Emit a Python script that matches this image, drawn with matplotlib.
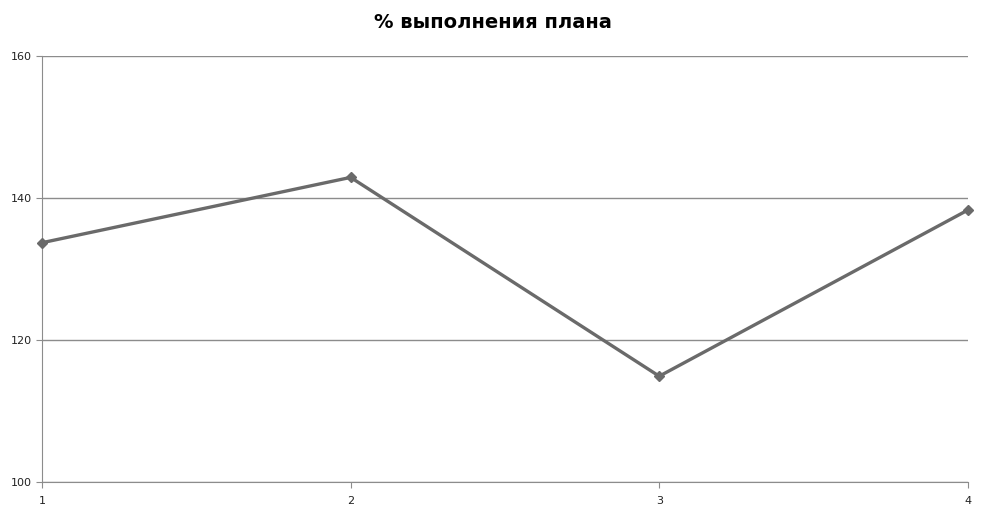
import matplotlib
matplotlib.use("Agg")
import matplotlib.pyplot as plt

categories = [1, 2, 3, 4]
values = [133.7, 142.9, 114.9, 138.3]
yticks = [100, 120, 140, 160]
title = "% выполнения плана"

fig = plt.figure(figsize=(9.86, 5.15), dpi=100)
ax = fig.add_axes([0.0426, 0.0641, 0.939, 0.8272])
ax.plot(categories, values, color="#6a6a6a", lw=2.4, marker="D", markersize=5,
        solid_joinstyle="miter", zorder=3, clip_on=False)
ax.set_xlim(1, 4)
ax.set_ylim(100, 160)
ax.set_yticks(yticks)
ax.set_xticks(categories)
ax.yaxis.grid(True, color="#8c8c8c", lw=1)
for s in ["top", "right"]:
    ax.spines[s].set_visible(False)
for s in ["left", "bottom"]:
    ax.spines[s].set_color("#8c8c8c")
ax.tick_params(axis="both", colors="#8c8c8c", labelcolor="#222222", labelsize=8, length=4)
ax.tick_params(axis="x", pad=6)
fig.text(0.5, 1 - 22 / 515, title, fontsize=14, fontweight="bold", ha="center", va="center")
fig.savefig("out.png", dpi=100)
